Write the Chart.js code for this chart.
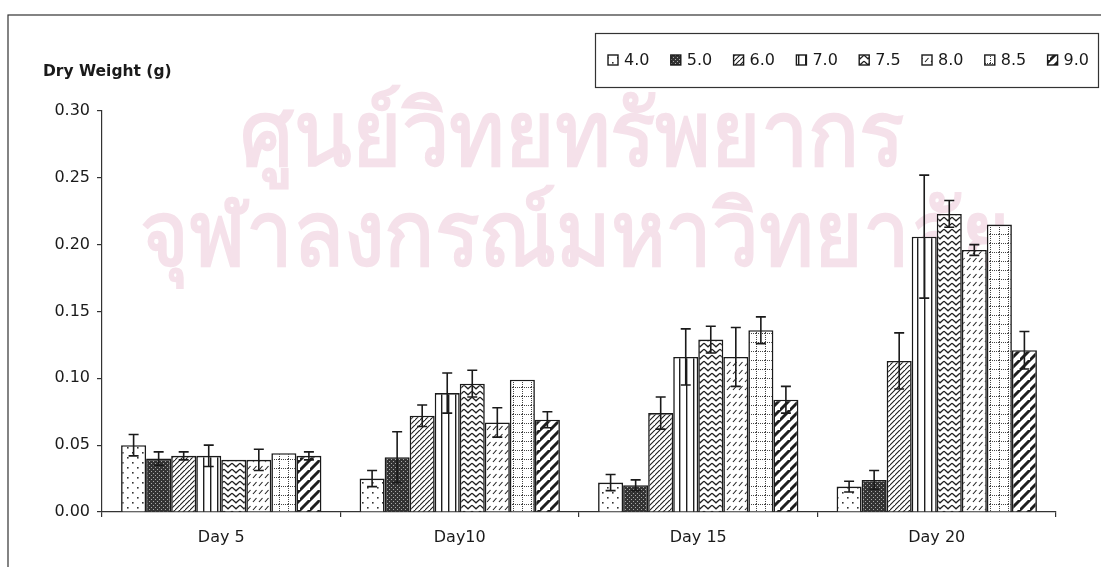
<!DOCTYPE html>
<html>
<head>
<meta charset="utf-8">
<script src="https://cdn.jsdelivr.net/npm/chart.js@4"></script>
<style>
  body { margin: 0; background: #fff; }
  canvas { display: block; }
</style>
</head>
<body>
<canvas id="dryChart" width="1101" height="567"></canvas>
<script>
// categories and series
const days = ['Day 5', 'Day10', 'Day 15', 'Day 20'];
const phLabels = ['4.0', '5.0', '6.0', '7.0', '7.5', '8.0', '8.5', '9.0'];

// mean dry weight (g) per pH
const ph40 = [0.050, 0.025, 0.022, 0.019];
const ph50 = [0.040, 0.041, 0.020, 0.024];
const ph60 = [0.042, 0.072, 0.074, 0.113];
const ph70 = [0.042, 0.089, 0.116, 0.206];
const ph75 = [0.039, 0.096, 0.129, 0.223];
const ph80 = [0.039, 0.067, 0.116, 0.196];
const ph85 = [0.044, 0.099, 0.136, 0.215];
const ph90 = [0.042, 0.069, 0.084, 0.121];

// standard error per pH
const err40 = [0.008, 0.006, 0.006, 0.004];
const err50 = [0.005, 0.019, 0.004, 0.007];
const err60 = [0.003, 0.008, 0.012, 0.021];
const err70 = [0.008, 0.015, 0.021, 0.046];
const err75 = [0.000, 0.010, 0.010, 0.010];
const err80 = [0.008, 0.011, 0.022, 0.004];
const err85 = [0.000, 0.000, 0.010, 0.000];
const err90 = [0.003, 0.006, 0.010, 0.014];

const yTicks = [0, 0.05, 0.10, 0.15, 0.20, 0.25, 0.30];

const FONT = '"DejaVu Sans", Arial, sans-serif';
const INK = '#1a1a1a';

// fill patterns
function tile(w, h, draw) {
  const c = document.createElement('canvas');
  c.width = w;
  c.height = h;
  const g = c.getContext('2d');
  g.fillStyle = '#fff';
  g.fillRect(0, 0, w, h);
  g.strokeStyle = '#1e1e1e';
  g.fillStyle = '#1e1e1e';
  draw(g, w, h);
  return g.createPattern(c, 'repeat');
}

function diagonal(g, w, h) {
  g.beginPath();
  g.moveTo(-1, h + 1); g.lineTo(w + 1, -1);
  g.moveTo(-w - 1, h + 1); g.lineTo(1, -1);
  g.moveTo(w - 1, 2 * h + 1); g.lineTo(2 * w + 1, h - 1);
  g.stroke();
}

const patterns = [
  // 4.0 sparse dots
  tile(10, 10, g => {
    g.fillStyle = '#333';
    g.fillRect(2, 2, 1.6, 1.6);
    g.fillRect(7, 7, 1.6, 1.6);
  }),
  // 5.0 dark crosshatch
  tile(4, 4, g => {
    g.fillStyle = '#333';
    g.fillRect(0, 0, 4, 4);
    g.fillStyle = '#aaa';
    g.fillRect(1, 1, 1, 1);
    g.fillRect(3, 3, 1, 1);
  }),
  // 6.0 fine diagonal
  tile(5, 5, g => { g.lineWidth = 1.1; diagonal(g, 5, 5); }),
  // 7.0 vertical lines
  tile(7, 2, g => { g.fillRect(0, 0, 1.4, 2); }),
  // 7.5 wavy lines
  tile(8, 6, g => {
    g.lineWidth = 1.3;
    g.beginPath();
    g.moveTo(0, 1.2); g.lineTo(4, 4.8); g.lineTo(8, 1.2);
    g.stroke();
  }),
  // 8.0 short dashes
  tile(6, 8, g => {
    g.lineWidth = 1.1;
    g.beginPath();
    g.moveTo(1, 6); g.lineTo(4.5, 2);
    g.stroke();
  }),
  // 8.5 dotted grid
  tile(9, 9, g => {
    g.fillStyle = '#444';
    for (let i = 0; i < 9; i += 2) {
      g.fillRect(i, 0, 1, 1);
      g.fillRect(0, i, 1, 1);
    }
  }),
  // 9.0 wide diagonal
  tile(10, 10, g => { g.lineWidth = 3; diagonal(g, 10, 10); }),
];

const seriesValues = [ph40, ph50, ph60, ph70, ph75, ph80, ph85, ph90];
const seriesErrors = [err40, err50, err60, err70, err75, err80, err85, err90];

const datasets = phLabels.map((label, i) => ({
  label: label,
  data: seriesValues[i],
  errors: seriesErrors[i],
  backgroundColor: patterns[i],
  borderColor: INK,
  borderWidth: 1.6,
  categoryPercentage: 0.84,
  barPercentage: 1.0,
}));

// white page, faint watermark and the outer frame
const backdrop = {
  id: 'backdrop',
  beforeDraw(chart) {
    const ctx = chart.ctx;
    ctx.save();
    ctx.fillStyle = '#fff';
    ctx.fillRect(0, 0, chart.width, chart.height);

    ctx.fillStyle = '#f5e1ea';
    ctx.strokeStyle = '#f5e1ea';
    ctx.lineWidth = 2;
    ctx.textBaseline = 'alphabetic';
    ctx.textAlign = 'left';
    const marks = [
      { text: 'ศูนย์วิทยทรัพยากร', x: 240, y: 165, w: 665 },
      { text: 'จุฬาลงกรณ์มหาวิทยาลัย', x: 140, y: 265, w: 870 },
    ];
    ctx.font = '78px "Noto Sans", "DejaVu Sans", sans-serif';
    marks.forEach(m => {
      const mw = ctx.measureText(m.text).width;
      ctx.save();
      ctx.translate(m.x, m.y);
      ctx.scale(m.w / mw, 1.15);
      ctx.fillText(m.text, 0, 0);
      ctx.strokeText(m.text, 0, 0);
      ctx.restore();
    });

    ctx.strokeStyle = '#333';
    ctx.lineWidth = 1.2;
    ctx.strokeRect(8, 15, 1200, 700);
    ctx.restore();
  },
};

// symmetric error bars on every bar
const errorBars = {
  id: 'errorBars',
  afterDatasetsDraw(chart) {
    const ctx = chart.ctx;
    const y = chart.scales.y;
    ctx.save();
    ctx.strokeStyle = INK;
    ctx.lineWidth = 1.6;
    chart.data.datasets.forEach((ds, i) => {
      chart.getDatasetMeta(i).data.forEach((bar, j) => {
        const e = ds.errors[j];
        if (!e) return;
        const v = ds.data[j];
        const top = y.getPixelForValue(v + e);
        const bot = y.getPixelForValue(v - e);
        ctx.beginPath();
        ctx.moveTo(bar.x, top); ctx.lineTo(bar.x, bot);
        ctx.moveTo(bar.x - 5, top); ctx.lineTo(bar.x + 5, top);
        ctx.moveTo(bar.x - 5, bot); ctx.lineTo(bar.x + 5, bot);
        ctx.stroke();
      });
    });
    ctx.restore();
  },
};

// axis title and boxed legend
const annotations = {
  id: 'annotations',
  afterDraw(chart) {
    const ctx = chart.ctx;
    ctx.save();
    ctx.fillStyle = INK;
    ctx.textBaseline = 'middle';
    ctx.textAlign = 'left';
    ctx.font = 'bold 15.5px ' + FONT;
    ctx.fillText('Dry Weight (g)', 43, 72);

    ctx.fillStyle = '#fff';
    ctx.fillRect(595, 33, 504, 54);
    ctx.strokeStyle = '#333';
    ctx.lineWidth = 1.2;
    ctx.strokeRect(595.5, 33.5, 503, 54);

    ctx.font = '16px ' + FONT;
    chart.data.datasets.forEach((ds, i) => {
      const x = 608 + i * 62.8;
      ctx.fillStyle = ds.backgroundColor;
      ctx.fillRect(x, 55, 10, 10);
      ctx.strokeStyle = INK;
      ctx.lineWidth = 1.4;
      ctx.strokeRect(x, 55, 10, 10);
      ctx.fillStyle = INK;
      ctx.fillText(ds.label, x + 16, 61);
    });
    ctx.restore();
  },
};

new Chart(document.getElementById('dryChart'), {
  type: 'bar',
  data: { labels: days, datasets: datasets },
  options: {
    responsive: false,
    animation: false,
    layout: { padding: { top: 111, right: 45, left: 0, bottom: 0 } },
    plugins: {
      legend: { display: false },
      tooltip: { enabled: false },
    },
    scales: {
      x: {
        offset: true,
        afterFit: s => { s.height = 55; },
        grid: {
          offset: true,
          drawOnChartArea: false,
          tickLength: 5,
          color: '#333',
          lineWidth: 1.2,
        },
        border: { color: '#333', width: 1.2 },
        ticks: { color: INK, padding: 11, font: { family: FONT, size: 16 } },
      },
      y: {
        min: 0,
        max: 0.30,
        afterFit: s => { s.width = 102; },
        afterBuildTicks: s => { s.ticks = yTicks.map(v => ({ value: v })); },
        grid: {
          drawOnChartArea: false,
          tickLength: 5,
          color: '#333',
          lineWidth: 1.2,
        },
        border: { color: '#333', width: 1.2 },
        ticks: {
          color: INK,
          padding: 7,
          font: { family: FONT, size: 16 },
          callback: v => v.toFixed(2),
        },
      },
    },
  },
  plugins: [backdrop, errorBars, annotations],
});
</script>
</body>
</html>
